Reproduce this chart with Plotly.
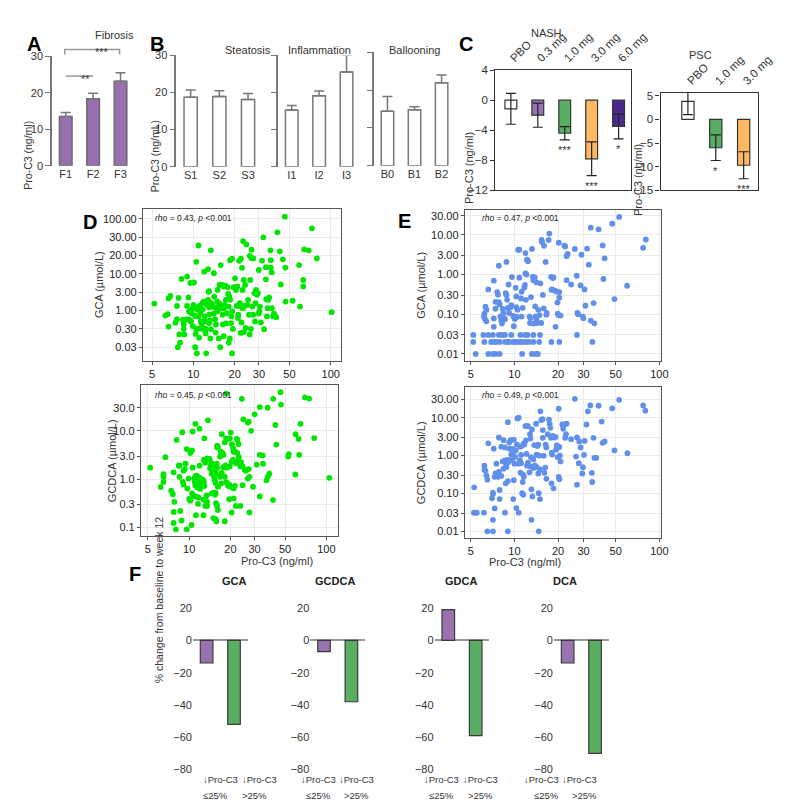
import numpy as np
import plotly.graph_objects as go

W, H = 787, 809
FONT = "Arial, Liberation Sans, sans-serif"
TXT = "#333333"

# ---------------- data ----------------
fib_cats = ["F1", "F2", "F3"]
fib_vals = [13.5, 18.4, 23.2]
fib_err = [1.1, 1.5, 2.3]

stea_cats = ["S1", "S2", "S3"]
stea_vals = [18.7, 18.9, 18.1]
stea_err = [2.0, 1.6, 1.6]

infl_cats = ["I1", "I2", "I3"]
infl_vals = [15.3, 19.1, 25.5]
infl_err = [1.2, 1.3, 4.6]

ball_cats = ["B0", "B1", "B2"]
ball_vals = [14.4, 14.8, 22.0]
ball_err = [3.9, 0.8, 2.0]

nash_cats = ["PBO", "0.3 mg", "1.0 mg", "3.0 mg", "6.0 mg"]
nash_vals = [-1.15, -2.0, -4.4, -7.8, -3.5]
nash_err = [2.05, 1.6, 0.87, 2.25, 1.65]
nash_sig = ["", "", "***", "***", "*"]

psc_cats = ["PBO", "1.0 mg", "3.0 mg"]
psc_vals = [3.8, -6.0, -9.7]
psc_err = [2.8, 2.7, 2.85]
psc_sig = ["", "*", "***"]

# Panel D: (Pro-C3 ng/ml, GCA umol/L)
d_gca = [(5.2,1.52),(6.25,0.72),(6.5,0.79),(6.6,2.09),(6.8,2.4),(6.6,0.35),(7.4,0.45),(7.6,0.57),(7.6,1.32),(7.8,2.13),(7.7,0.03),(8.0,0.054),(7.9,0.15),(8.2,7.2),
 (8.4,0.55),(8.5,0.41),(8.5,0.30),(8.6,0.15),(8.9,0.56),(9.2,0.56),(9.0,1.32),(9.0,8.4),(9.5,5.5),(10.1,5.7),(9.2,2.2),(9.5,0.52),(9.6,1.0),(9.7,0.84),(9.9,1.15),(10.0,1.4),(10.2,1.27),(10.3,0.70),(9.3,0.94),(10.4,0.16),(10.3,0.03),(10.5,0.30),(9.9,0.36),(9.6,0.49),
 (10.5,15.8),(10.9,25),(10.6,0.014),(10.7,1.05),(10.9,0.68),(11.1,1.32),(11.3,0.84),(11.3,0.49),(11.5,0.37),(11.6,1.55),(11.7,1.08),(11.9,1.72),(12.0,10.9),(12.1,0.68),(12.2,0.49),(12.3,0.30),(12.4,0.014),(12.3,0.17),(12.6,1.4),(12.8,12.0),(12.8,1.9),(12.9,3.1),(13.0,3.2),(13.0,1.22),(13.1,0.78),(13.2,0.52),(13.4,22.5),(13.4,0.29),(13.3,0.09),(13.5,1.55),(13.0,0.44),(12.0,0.29),(11.6,0.30),(11.0,0.099),(10.7,0.30),
 (13.7,1.4),(13.9,1.27),(14.1,10.3),(14.1,0.82),(14.2,2.3),(14.4,0.57),(14.6,0.40),(14.7,1.15),(14.9,1.72),(15.0,3.5),(15.0,0.95),(15.3,1.55),(15.4,1.27),(15.5,4.86),(15.7,0.03),(15.8,14),(15.9,1.35),(16.1,1.15),(16.2,4.86),(16.3,0.76),(16.4,0.40),(16.6,4.4),(16.7,1.15),(16.9,1.4),(17.1,4.6),(17.2,1.9),(17.3,0.43),(17.5,0.84),(17.7,4.2),(17.9,2.7),(18.1,1.27),(18.3,2.3),(18.5,1.9),(18.4,0.09),(18.1,0.054),(16.6,0.12),(15.3,0.09),(14.5,0.19),(18.5,16.8),(19.1,17.8),(19.1,0.014),(18.8,0.44),(19.2,0.95),(19.6,4.2),(18.9,0.68),(19.4,0.30),
 (20.1,7.5),(20.4,3.5),(20.7,1.32),(20.9,4.4),(21.1,0.61),(21.2,0.76),(21.5,16.4),(21.8,1.55),(22.1,1.27),(22.2,17.8),(22.4,0.46),(22.6,12.6),(22.8,3.5),(22.9,1.15),(23.0,27.5),(23.3,0.20),(23.3,6.7),(23.5,1.32),(23.8,4.86),(24.0,0.32),(24.3,25.6),(24.7,1.4),(25.0,1.9),(25.4,0.76),(25.7,19.8),(25.9,6.7),(26.2,0.30),(26.4,18.3),(26.5,22.8),(26.8,1.27),(27.3,18),(27.3,0.76),(27.8,2.85),(28.3,1.55),(28.6,3.5),(29.1,2.6),(29.5,2.85),(29.9,11.6),(29.9,0.82),(30.2,0.95),(28.1,0.49),(22.1,0.18),(25.7,0.15),
 (30.5,1.27),(31.0,0.46),(31.6,16.6),(32.3,30),(32.7,0.29),(33.7,12.9),(33.7,7.0),(33.9,1.97),(34.3,0.68),(34.7,1.15),(35.1,1.9),(35.6,2.2),(36.4,22.5),(36.6,16.8),(36.6,12.8),(37.2,10.6),(37.2,1.15),(38.0,0.68),(38.6,0.82),(39.3,0.70),(40.1,0.65),(40.8,41.5),(42.6,22),(43.3,5.0),(44.8,17.4),(46.9,1.72),(46.3,116),(46.7,12.7),
 (52.8,1.8),(58.8,14),(63.0,6.7),(63.0,4.4),(59.8,1.27),(64.1,23),(69.1,22.5),(72.9,54),(79.2,18),(101.5,0.9)]
d_gca_ticks = [0.03, 0.3, 1, 3, 10, 20, 30, 100]
d_gca_ticktext = ["0.03", "0.30", "1.00", "3.00", "10.00", "20.00", "30.00", "100.00"]

d_gcdca = [(5.2,1.73),(6.2,0.69),(6.5,1.27),(6.5,1.12),(6.5,0.88),(6.7,2.85),(7.4,0.58),(7.6,0.49),(7.7,1.39),(7.8,0.34),(7.7,0.21),(7.7,0.125),(8.0,0.092),(8.1,6.5),(8.4,1.9),(8.5,1.93),(8.5,1.12),(8.6,0.22),(8.8,0.14),(8.9,9.4),
 (9.0,0.88),(9.1,0.77),(9.1,1.5),(9.3,1.62),(9.4,2.1),(9.6,4.2),(9.6,0.092),(9.9,1.03),(9.7,0.64),(10.0,0.39),(10.2,0.36),(10.4,0.113),(10.2,3.5),(10.5,3.96),(10.6,9.7),(10.6,1.73),(10.5,0.51),(10.8,0.45),(10.9,1.05),(11.0,0.88),
 (11.1,0.74),(11.2,1.19),(11.4,1.17),(11.4,0.68),(11.6,0.81),(11.7,0.95),(11.9,1.08),(11.9,1.9),(12.0,0.63),(12.1,0.79),(12.4,0.77),(12.5,0.92),(12.6,0.98),(12.8,0.88),(12.9,0.72),(11.1,14),(11.9,11.1),(11.2,0.18),(11.4,0.43),(11.6,0.31),
 (11.7,0.42),(12.7,0.38),(13.1,0.37),(13.4,0.46),(13.5,0.345),(12.8,2.5),(13.1,2.2),(13.5,2.7),(13.7,2.5),(13.9,2.5),(14.1,2.64),(14.4,2.0),(14.2,1.7),(14.5,1.65),(14.6,2.15),(12.9,7.0),(13.7,16.5),(12.7,0.18),(13.1,0.28),(13.5,0.28),
 (15.0,0.157),(15.8,0.135),(14.6,1.3),(14.7,1.53),(14.9,1.79),(15.1,1.37),(15.2,1.12),(15.4,0.95),(15.5,1.27),(15.6,0.83),(15.7,1.35),(15.9,2.1),(16.0,1.7),(16.0,4.95),(16.0,4.5),(16.8,2.95),(17.0,3.7),(17.3,3.2),(17.5,3.5),(17.8,3.2),
 (18.2,5.8),(18.6,7.0),(19.1,6.8),(19.8,7.0),(20.1,9.2),(20.5,5.3),(20.9,4.4),(21.1,3.7),(21.6,3.7),(22.2,6.8),(22.5,6.5),(22.9,5.3),(14.6,0.51),(15.1,0.53),(15.2,0.52),(15.4,0.48),(15.6,0.52),(15.7,0.32),(16.0,0.28),(16.2,0.23),
 (15.6,0.15),(18.2,0.135),(18.6,0.87),(18.9,0.83),(19.2,0.73),(19.6,0.77),(20.1,0.70),(20.7,0.68),(21.1,0.645),(21.5,0.73),(17.7,1.76),(18.0,1.8),(18.4,1.93),(18.8,1.73),(19.3,1.8),(19.8,1.85),(20.4,2.33),(20.9,2.5),(21.3,2.33),(21.9,2.15),
 (22.4,2.26),(23.0,2.85),(23.9,2.26),(24.5,1.85),(25.4,1.57),(25.9,1.5),(27.2,1.62),(18.6,59),(24.2,46),(24.8,17.3),(26.7,14.8),(28.3,10),(27.2,15.5),(30.0,22),(32.7,31),(37.3,30),(41.0,46),(46.3,63),(46.7,35),(42.5,13.2),
 (43.2,5.2),(32.7,3.2),(34.3,3.1),(34.5,2.1),(31.0,2.0),(32.7,0.44),(40.8,0.37),(36.6,0.95),(38.4,1.3),(37.4,1.12),(52.7,2.95),(53.3,3.3),(59.7,8.5),(62.7,6.8),(63.4,3.2),(59.4,1.25),(64.8,14),(69.8,49),(74.9,46.4),(81.5,7.1),
 (105,1.07),(20.4,0.205),(21.9,0.28),(23.6,0.28),(27.5,0.205),(19.6,0.385),(21.1,0.40),(24.5,0.75),(26.7,1.03),(29.2,0.70),(27.5,1.12),(23.6,1.85),(16.8,1.12),(17.3,1.35),(18.2,1.12),(17.1,0.82),(16.2,0.70),(22.4,3.5),(17.3,8.5),(16.2,4.6)]

# Panel E: (Pro-C3 ng/ml, GCA umol/L)
e_gca = [(5.4,0.01),(6.6,0.01),(7.1,0.01),(7.4,0.01),(7.9,0.01),(11.3,0.01),(13.2,0.01),(14.1,0.01),(14.5,0.01),
 (5.2,0.02),(6.2,0.02),(6.9,0.02),(7.2,0.02),(7.5,0.02),(7.9,0.02),(8.6,0.02),(9.0,0.02),(9.2,0.02),(9.8,0.02),(10.1,0.02),(10.5,0.02),(11.0,0.02),(11.4,0.02),(12.0,0.02),(12.6,0.02),(13.5,0.02),(14.8,0.02),(18.0,0.02),(20.4,0.02),(34.5,0.02),
 (5.2,0.03),(6.1,0.03),(6.6,0.03),(7.1,0.03),(7.8,0.03),(8.2,0.03),(8.6,0.03),(9.5,0.03),(11.0,0.03),(11.9,0.03),(12.3,0.03),(13.5,0.03),(15.0,0.03),(27.0,0.03),
 (6.2,0.103),(6.15,0.088),(6.25,0.076),(6.4,0.066),(6.6,0.42),(6.3,0.154),(6.4,0.13),(7.2,0.70),(7.2,0.078),(7.2,0.048),(7.4,0.205),(7.4,0.137),(7.6,0.36),(7.7,0.31),(7.8,1.67),(7.8,0.20),(7.9,0.176),(8.0,0.088),(8.1,0.068),(8.2,0.058),
 (8.3,0.135),(8.4,0.107),(8.5,0.08),(8.6,0.074),(8.7,0.34),(8.8,0.305),(8.8,2.07),(8.9,0.23),(9.1,0.56),(9.0,0.143),(9.2,0.107),(9.4,0.15),(9.5,0.17),(9.6,0.86),(9.8,0.09),(9.9,0.05),(10.05,0.076),(10.2,0.46),(10.3,0.15),(10.3,0.28),
 (10.4,0.085),(10.5,0.13),(10.6,4.2),(10.8,4.2),(10.8,0.83),(11.1,0.25),(11.2,0.37),(11.2,0.087),(11.4,0.145),(11.7,0.47),(11.8,0.55),(11.9,1.06),(11.9,3.46),(12.0,0.23),(12.1,1.0),(12.2,2.36),(12.3,2.27),(12.4,2.15),(12.7,0.087),(12.8,0.06),
 (12.9,0.08),(13.0,0.27),(13.2,4.4),(13.4,0.875),(13.5,0.72),(13.6,0.058),(13.8,0.84),(13.9,0.157),(14.0,0.088),(14.2,0.073),(14.2,0.63),(14.3,0.06),(14.6,0.129),(14.9,0.095),(15.1,0.60),(15.3,0.06),(15.4,7.4),(15.5,6.5),(15.7,0.305),(15.9,0.14),
 (16.0,5.3),(16.4,2.07),(16.6,0.097),(16.7,0.107),(17.2,7.4),(17.4,10.7),(17.9,0.875),(18.0,0.41),(18.2,0.42),(18.4,0.81),(18.6,0.84),(19.0,0.39),(19.2,0.048),(19.6,0.37),(19.8,0.196),(19.9,0.103),(20.2,0.094),(20.4,0.36),(20.4,0.26),(20.2,6.3),
 (20.8,0.092),(22.1,5.3),(22.4,5.1),(23.3,3.3),(22.9,2.9),(22.9,0.72),(24.6,0.56),(26.1,4.4),(26.9,0.93),(27.2,0.107),(27.5,0.1),(28.6,0.53),(29.0,3.15),(29.6,0.087),(29.9,0.079),(30.5,0.42),(30.9,0.163),(31.7,4.5),(32.6,1.77),(33.6,15.1),
 (33.6,0.069),(35.2,0.19),(35.6,0.059),(38.1,13.7),(40.6,5.4),(41.1,0.77),(41.9,2.55),(49.0,0.24),(47.3,19),(52.8,28.2),(59.9,0.52),(77.3,4.7),(80.7,7.6)]

e_gcdca = [(5.27,0.145),(5.25,0.031),(5.4,0.031),(5.5,0.031),(6.15,0.031),(6.5,0.01),(7.1,0.01),(9.0,0.01),(14.7,0.01),(7.1,0.02),(7.3,0.04),(8.6,0.031),(10.7,0.031),(10.3,0.041),(13.1,0.02),
 (6.2,0.54),(6.2,0.42),(6.3,0.40),(6.4,0.30),(6.5,0.23),(6.6,2.1),(7.1,0.097),(7.0,0.074),(7.1,0.105),(7.2,1.52),(7.3,0.274),(7.4,0.335),(7.5,0.61),(7.7,0.274),(7.8,2.99),(7.8,0.37),(7.9,0.123),(7.9,0.071),(8.1,1.71),(8.1,0.29),
 (8.3,0.70),(8.4,0.45),(8.4,2.55),(8.6,1.64),(8.6,0.742),(8.7,0.184),(8.7,0.63),(8.8,0.498),(9.0,7.6),(9.0,0.77),(9.0,0.21),(9.1,0.67),(9.2,2.2),(9.3,1.49),(9.4,2.55),(9.5,1.06),(9.6,0.77),(9.7,1.49),(9.7,1.06),(9.8,0.071),
 (9.9,2.6),(9.9,0.224),(10.0,0.608),(10.1,0.92),(10.2,1.35),(10.4,1.93),(10.5,9.5),(10.7,10),(10.7,0.608),(10.9,0.742),(10.9,1.71),(11.0,0.355),(11.1,1.04),(11.1,0.63),(11.2,1.78),(11.3,0.101),(11.4,0.2),(11.5,0.31),(11.5,0.092),(11.6,2.1),
 (11.6,0.274),(11.7,1.97),(11.9,6.0),(12.0,2.5),(12.1,1.10),(12.2,0.54),(12.2,6.1),(12.4,6.0),(12.4,0.645),(12.7,0.36),(12.8,3.65),(12.9,2.8),(12.9,0.52),(13.0,0.905),(13.1,0.128),(13.2,4.9),(13.3,0.083),(13.5,0.47),(13.5,0.8),(13.7,1.89),
 (13.8,0.55),(14.1,6.9),(14.2,1.06),(14.2,0.5),(14.4,1.78),(14.6,1.93),(14.6,0.335),(14.7,0.101),(14.8,1.0),(15.0,0.43),(15.0,0.071),(15.1,14.7),(15.3,8.6),(15.6,9.1),(15.7,4.7),(15.7,2.93),(15.9,0.98),(16.1,0.35),(16.3,0.48),(16.4,1.93),
 (16.6,1.64),(16.6,0.243),(17.0,3.65),(17.3,8.9),(17.5,6.9),(17.7,5.4),(17.9,2.93),(18.0,0.184),(18.1,1.2),(18.2,1.06),(18.4,3.3),(18.6,0.136),(18.9,2.99),(19.2,3.1),(19.4,1.43),(19.6,1.85),(19.9,0.905),(20.0,1.64),(20.2,17.2),(20.2,0.274),
 (20.4,0.238),(20.4,1.68),(20.6,1.0),(20.8,0.70),(21.4,6.6),(21.7,5.1),(22.1,6.6),(22.4,2.93),(22.7,3.65),(22.9,6.9),(24.6,2.7),(26.1,31.4),(26.6,0.94),(27.0,2.99),(27.0,0.17),(27.8,0.63),(28.0,2.35),(28.6,1.64),(29.4,0.335),(29.7,0.49),
 (30.2,1.04),(30.5,2.45),(31.4,6.6),(32.1,14.7),(33.4,21),(34.2,0.35),(34.4,0.2),(35.1,2.93),(35.6,0.87),(36.7,0.87),(38.1,20.6),(40.0,7.9),(40.6,2.17),(41.9,2.35),(47.3,17.6),(49.0,1.37),(52.8,29.5),(60.2,1.15),(77.3,21),(80.0,15.3)]

f_groups = ["GCA", "GCDCA", "GDCA", "DCA"]
f_low = [-14, -7, 19, -14]     # decrease in Pro-C3 <=25%
f_high = [-52, -38, -59, -70]  # decrease in Pro-C3 >25%
f_cat_line1 = ["↓Pro-C3", "↓Pro-C3"]
f_cat_line2 = ["≤25%", "&gt;25%"]

# ---------------- helpers ----------------
def xd(a, b):
    return [a / W, b / W]

def yd(top, bottom):
    return [1 - bottom / H, 1 - top / H]

def px(x):
    return x / W

def py(y):
    return 1 - y / H

def piecewise_log_pos(vals, ticks):
    lt = np.log10(np.asarray(ticks, float))
    lv = np.log10(np.asarray(vals, float))
    idx = np.arange(len(ticks), dtype=float)
    pos = np.interp(lv, lt, idx)
    lo = lv < lt[0]
    hi = lv > lt[-1]
    pos[lo] = (lv[lo] - lt[0]) / (lt[1] - lt[0])
    pos[hi] = len(ticks) - 1 + (lv[hi] - lt[-1]) / (lt[-1] - lt[-2])
    return pos

fig = go.Figure()
layout = dict(width=W, height=H, margin=dict(l=0, r=0, t=0, b=0),
              paper_bgcolor="white", plot_bgcolor="white", showlegend=False,
              font=dict(family=FONT, size=11, color=TXT))
ann = []
shapes = []

def add_axes(n, xdom, ydom, xa, ya):
    xs = "xaxis" if n == 1 else f"xaxis{n}"
    ys = "yaxis" if n == 1 else f"yaxis{n}"
    xa = dict(xa); ya = dict(ya)
    xa.update(domain=xdom, anchor="y" if n == 1 else f"y{n}")
    ya.update(domain=ydom, anchor="x" if n == 1 else f"x{n}")
    layout[xs] = xa
    layout[ys] = ya

def refs(n):
    return ("x", "y") if n == 1 else (f"x{n}", f"y{n}")

# ---------------- A & B: bar charts ----------------
bar_y_common = dict(range=[0, 30], tickvals=[0, 10, 20, 30], ticks="outside", ticklen=5,
                    tickcolor="#777", showline=True, linecolor="#777", linewidth=1.5,
                    showgrid=False, zeroline=False, tickfont=dict(size=11, color=TXT))
bar_x_common = dict(type="category", showline=False, ticks="", showgrid=False,
                    zeroline=False, tickfont=dict(size=11, color=TXT), range=[-0.5, 2.5])

def updown_bar(n, cats, vals, err, fill, line):
    xr, yr = refs(n)
    fig.add_trace(go.Bar(x=cats, y=vals, width=0.46, xaxis=xr, yaxis=yr,
                         marker=dict(color=fill, line=dict(color=line, width=1.5)),
                         error_y=dict(type="data", symmetric=False, array=err,
                                      arrayminus=[0] * len(err), color="#777",
                                      thickness=1.5, width=5)))

updown_bar(1, fib_cats, fib_vals, fib_err, "#9a70b0", "#6b6b6b")
add_axes(1, xd(45, 129), yd(43, 154), bar_x_common, bar_y_common)

updown_bar(2, stea_cats, stea_vals, stea_err, "white", "#777")
add_axes(2, xd(172, 260), yd(42, 155), bar_x_common, bar_y_common)
updown_bar(3, infl_cats, infl_vals, infl_err, "white", "#777")
add_axes(3, xd(276, 360), yd(42, 155), bar_x_common, dict(bar_y_common, showticklabels=False))
updown_bar(4, ball_cats, ball_vals, ball_err, "white", "#777")
add_axes(4, xd(374, 457), yd(39, 154), bar_x_common, dict(bar_y_common, showticklabels=False))

# significance brackets in A
shapes.append(dict(type="line", xref="paper", yref="paper", x0=px(59), x1=px(87), y0=py(63), y1=py(63),
                   line=dict(color="#999", width=1.5)))
shapes.append(dict(type="path", xref="paper", yref="paper",
                   path=f"M {px(58)},{py(41)} L {px(58)},{py(36)} L {px(114)},{py(36)} L {px(114)},{py(41)}",
                   line=dict(color="#999", width=1.5)))
ann.append(dict(text="**", x=px(73), y=py(58), xref="paper", yref="paper", showarrow=False,
                font=dict(size=11, color=TXT)))
ann.append(dict(text="***", x=px(87), y=py(30), xref="paper", yref="paper", showarrow=False,
                font=dict(size=11, color=TXT)))

# ---------------- C: NASH & PSC ----------------
box_line = dict(showline=True, mirror=True, linecolor="#333", linewidth=1.3)
c_x = dict(type="category", side="top", tickangle=-45, ticks="", showgrid=False, zeroline=False,
           tickfont=dict(size=11.5, color=TXT), **box_line)
c_y = dict(ticks="outside", ticklen=4, tickcolor="#333", showgrid=False, zeroline=False,
           tickfont=dict(size=11.5, color=TXT), **box_line)

nash_colors = ["white", "#9b72b1", "#5aae61", "#fdb863", "#4a2a8c"]
fig.add_trace(go.Bar(x=nash_cats, y=nash_vals, width=0.44, xaxis="x5", yaxis="y5",
                     marker=dict(color=nash_colors, line=dict(color="#333", width=1.2)),
                     error_y=dict(type="data", array=nash_err, color="#222", thickness=1.2, width=5)))
add_axes(5, xd(498, 637), yd(57, 179), dict(c_x, range=[-0.58, 4.47]),
         dict(c_y, range=[-12, 4], tickvals=[-12, -8, -4, 0, 4]))
for c, v, e, s in zip(nash_cats, nash_vals, nash_err, nash_sig):
    if s:
        ann.append(dict(text=s, x=c, y=v - e, xref="x5", yref="y5", yanchor="top", yshift=-2,
                        showarrow=False, font=dict(size=11, color=TXT)))

psc_colors = ["white", "#5aae61", "#fdb863"]
fig.add_trace(go.Bar(x=psc_cats, y=psc_vals, width=0.44, xaxis="x6", yaxis="y6",
                     marker=dict(color=psc_colors, line=dict(color="#333", width=1.2)),
                     error_y=dict(type="data", array=psc_err, color="#222", thickness=1.2, width=5)))
add_axes(6, xd(667, 767), yd(80, 179), dict(c_x, range=[-0.98, 2.53]),
         dict(c_y, range=[-15, 5.6], tickvals=[-15, -10, -5, 0, 5]))
for c, v, e, s in zip(psc_cats, psc_vals, psc_err, psc_sig):
    if s:
        ann.append(dict(text=s, x=c, y=v - e, xref="x6", yref="y6", yanchor="top", yshift=-2,
                        showarrow=False, font=dict(size=11, color=TXT)))

# ---------------- D & E: scatter plots ----------------
sc_axis = dict(showline=True, mirror=True, linecolor="#555", linewidth=1.3, ticks="outside",
               ticklen=3, tickcolor="#555", showgrid=True, gridcolor="#EBEBEB", gridwidth=1,
               zeroline=False, tickfont=dict(size=11, color="#222"))
xticks = [5, 10, 20, 30, 50, 100]
sc_x = dict(sc_axis, type="log", tickvals=xticks, ticktext=[str(t) for t in xticks])

def scatter(n, pts, color, ytransform=None):
    xr, yr = refs(n)
    xs = [p[0] for p in pts]
    ys = [p[1] for p in pts]
    if ytransform is not None:
        ys = ytransform(ys)
    fig.add_trace(go.Scatter(x=xs, y=ys, mode="markers", xaxis=xr, yaxis=yr,
                             marker=dict(size=5.8, color=color, line=dict(width=0))))

GREEN = "#00E600"
BLUE = "#6190EA"

scatter(7, d_gca, GREEN, lambda v: piecewise_log_pos(v, d_gca_ticks))
add_axes(7, xd(138, 340), yd(198, 352), dict(sc_x, range=[np.log10(4.3), np.log10(118)]),
         dict(sc_axis, range=[-0.74, 7.54], tickvals=list(range(len(d_gca_ticks))), ticktext=d_gca_ticktext))

scatter(8, d_gcdca, GREEN)
add_axes(8, xd(136, 337), yd(377, 530), dict(sc_x, range=[np.log10(4.46), np.log10(121)]),
         dict(sc_axis, type="log", range=[np.log10(0.0665), np.log10(87)],
              tickvals=[0.1, 0.3, 1, 3, 10, 30], ticktext=["0.1", "0.3", "1.0", "3.0", "10.0", "30.0"]))

e_yt = [0.01, 0.03, 0.1, 0.3, 1, 3, 10, 30]
e_ytt = ["0.01", "0.03", "0.10", "0.30", "1.00", "3.00", "10.00", "30.00"]
scatter(9, e_gca, BLUE)
add_axes(9, xd(467, 667), yd(199, 352), dict(sc_x, range=[np.log10(4.55), np.log10(102)]),
         dict(sc_axis, type="log", range=[np.log10(0.0067), np.log10(42)], tickvals=e_yt, ticktext=e_ytt))

scatter(10, e_gcdca, BLUE)
add_axes(10, xd(467, 667), yd(379, 532), dict(sc_x, range=[np.log10(4.55), np.log10(102)]),
         dict(sc_axis, type="log", range=[np.log10(0.0066), np.log10(63)], tickvals=e_yt, ticktext=e_ytt))

rho_txt = [(7, "0.43", 148, 207), (8, "0.45", 148, 387), (9, "0.47", 482, 207), (10, "0.49", 482, 387)]
for n, r, x, y in rho_txt:
    ann.append(dict(text=f"<i>rho</i> = {r}, <i>p</i> &lt;0.001", x=px(x), y=py(y), xref="paper", yref="paper",
                    xanchor="left", yanchor="middle", showarrow=False, font=dict(size=8.5, color="#222")))

# ---------------- F: bile acid changes ----------------
f_dom = [(189, 245), (309, 365), (436, 492), (558, 614)]
f_title_x = [217, 334, 463, 584]
f_lab_x = [(197, 237), (317, 356), (443, 483), (565, 604)]
for i, g in enumerate(f_groups):
    n = 11 + i
    xr, yr = refs(n)
    fig.add_trace(go.Bar(x=["lo", "hi"], y=[f_low[i], f_high[i]], width=0.46, xaxis=xr, yaxis=yr,
                         marker=dict(color=["#9b72b0", "#5aae61"], line=dict(color="#3a3a3a", width=1.2))))
    add_axes(n, xd(*f_dom[i]), yd(603, 767),
             dict(type="category", showline=False, ticks="", showgrid=False, zeroline=False,
                  showticklabels=False, range=[-0.5, 1.5]),
             dict(range=[-80, 20], tickvals=[-80, -60, -40, -20, 0, 20], showline=False, ticks="",
                  showgrid=False, zeroline=True, zerolinecolor="#999", zerolinewidth=2,
                  tickfont=dict(size=11, color=TXT)))
    ann.append(dict(text=f"<b>{g}</b>", x=px(f_title_x[i]), y=py(584), xref="paper", yref="paper",
                    showarrow=False, font=dict(size=11, color="#222")))
    for j in range(2):
        ann.append(dict(text=f_cat_line1[j], x=px(f_lab_x[i][j]), y=py(785), xref="paper", yref="paper",
                        showarrow=False, font=dict(size=9.5, color=TXT)))
        ann.append(dict(text=f_cat_line2[j], x=px(f_lab_x[i][j]), y=py(801), xref="paper", yref="paper",
                        showarrow=False, font=dict(size=9.5, color=TXT)))

# ---------------- titles and labels ----------------
def text(t, x, y, size=11, angle=0, bold=False, color=TXT):
    ann.append(dict(text=f"<b>{t}</b>" if bold else t, x=px(x), y=py(y), xref="paper", yref="paper",
                    showarrow=False, textangle=angle, font=dict(size=size, color=color)))

for t, x, y in [("A", 17, 17), ("B", 143, 17), ("C", 468, 17), ("D", 75, 198), ("E", 405, 197), ("F", 122, 582)]:
    text(t, x, y, size=20, bold=True, color="black")

text("Fibrosis", 87, 13)
text("Steatosis", 220, 28)
text("Inflammation", 318, 28)
text("Ballooning", 415, 28)
text("NASH", 568, 11)
text("PSC", 722, 33)

text("Pro-C3 (ng/ml)", 12, 106, size=10.5, angle=-90)
text("Pro-C3 (ng/mL)", 142, 106, size=10.5, angle=-90)
text("Pro-C3 (ng/ml)", 471, 118, angle=-90)
text("Pro-C3 (ng/ml)", 652, 130, angle=-90)
text("GCA (µmol/L)", 85, 275, angle=-90)
text("GCDCA (µmol/L)", 98, 453, angle=-90)
text("GCA (µmol/L)", 422, 275, angle=-90)
text("GCDCA (µmol/L)", 422, 455, angle=-90)
text("Pro-C3 (ng/ml)", 236, 563)
text("Pro-C3 (ng/ml)", 567, 564)
text("% change from baseline to week 12", 147, 681, size=10.5, angle=-90)

layout["annotations"] = ann
layout["shapes"] = shapes
fig.update_layout(**layout)
fig.write_html("out.html")
